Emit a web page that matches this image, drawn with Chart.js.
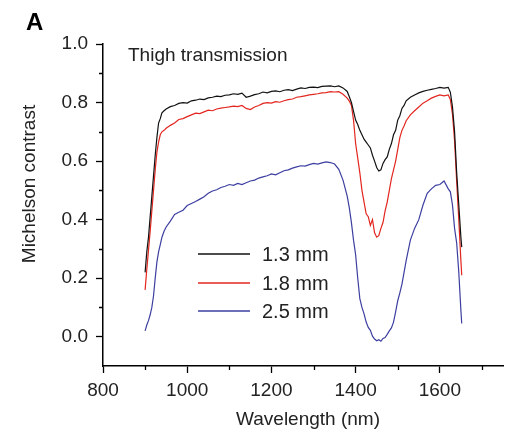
<!DOCTYPE html>
<html>
<head>
<meta charset="utf-8">
<script src="https://cdn.jsdelivr.net/npm/chart.js@4/dist/chart.umd.min.js"></script>
<style>
  html, body { margin: 0; padding: 0; background: #fff; }
  #wrap { width: 507px; height: 432px; }
</style>
</head>
<body>
<div id="wrap"><canvas id="thighChart" width="507" height="432"></canvas></div>
<script>
// wavelength grid (nm) shared by the three traces
const wavelengths = [
  900, 904, 908, 912, 916, 920, 924, 928, 932, 936, 940, 945,
  950, 960, 970, 980, 990, 1000, 1010, 1020, 1030, 1040, 1050, 1060, 1070, 1080, 1090,
  1100, 1110, 1120, 1130, 1140, 1150, 1160, 1170, 1180, 1190, 1200, 1210, 1220, 1230, 1240,
  1250, 1260, 1270, 1280, 1290, 1300, 1310, 1320, 1330, 1340, 1350, 1360, 1370, 1380,
  1385, 1390, 1395, 1400, 1405, 1410, 1415, 1420, 1425, 1430, 1435, 1440, 1445, 1450,
  1455, 1460, 1465, 1470, 1475, 1480, 1485, 1490, 1495, 1500, 1505, 1510, 1515, 1520,
  1530, 1540, 1550, 1560, 1570, 1580, 1590, 1600, 1610, 1620,
  1625, 1630, 1635, 1640, 1645, 1650, 1652
];

// Michelson contrast
const contrast13 = [
  0.22, 0.29, 0.34, 0.41, 0.48, 0.55, 0.62, 0.68, 0.73, 0.745, 0.765, 0.772,
  0.778, 0.786, 0.79, 0.797, 0.8, 0.798, 0.806, 0.808, 0.812, 0.81, 0.816, 0.818, 0.822, 0.82, 0.825,
  0.826, 0.83, 0.828, 0.832, 0.818, 0.822, 0.827, 0.83, 0.836, 0.833, 0.838, 0.84, 0.837, 0.842, 0.844,
  0.841, 0.846, 0.85, 0.848, 0.852, 0.853, 0.851, 0.855, 0.856, 0.857, 0.854, 0.857, 0.85, 0.838,
  0.82, 0.80, 0.77, 0.74, 0.725, 0.705, 0.69, 0.675, 0.665, 0.655, 0.645, 0.62, 0.6, 0.578,
  0.566, 0.57, 0.592, 0.605, 0.614, 0.64, 0.66, 0.69, 0.705, 0.74, 0.755, 0.78, 0.79, 0.806,
  0.818, 0.826, 0.833, 0.838, 0.842, 0.845, 0.848, 0.852, 0.849, 0.852,
  0.835, 0.785, 0.70, 0.56, 0.45, 0.34, 0.306
];
const contrast18 = [
  0.16, 0.23, 0.295, 0.36, 0.43, 0.5, 0.57, 0.63, 0.665, 0.69, 0.70, 0.705,
  0.712, 0.722, 0.73, 0.742, 0.745, 0.752, 0.758, 0.764, 0.762, 0.768, 0.774, 0.772, 0.778, 0.781, 0.783,
  0.785, 0.788, 0.786, 0.79, 0.78, 0.776, 0.785, 0.79, 0.797, 0.8, 0.798, 0.803, 0.801, 0.806, 0.81,
  0.812, 0.818, 0.82, 0.823, 0.826, 0.828, 0.83, 0.833, 0.834, 0.837, 0.836, 0.837, 0.828, 0.815,
  0.805, 0.79, 0.74, 0.66, 0.61, 0.56, 0.5, 0.46, 0.42, 0.41, 0.38, 0.4, 0.355, 0.34,
  0.345, 0.37, 0.39, 0.43, 0.46, 0.5, 0.54, 0.57, 0.6, 0.64, 0.68, 0.705, 0.72, 0.738,
  0.758, 0.772, 0.785, 0.798, 0.806, 0.815, 0.821, 0.826, 0.823, 0.826,
  0.81, 0.76, 0.67, 0.53, 0.40, 0.26, 0.21
];
const contrast25 = [
  0.02, 0.04, 0.055, 0.075, 0.10, 0.14, 0.2, 0.255, 0.29, 0.315, 0.34, 0.36,
  0.375, 0.395, 0.418, 0.425, 0.432, 0.448, 0.455, 0.462, 0.47, 0.478, 0.49, 0.498, 0.502, 0.51, 0.514,
  0.52, 0.517, 0.524, 0.52, 0.526, 0.532, 0.535, 0.542, 0.546, 0.55, 0.556, 0.553, 0.56, 0.567, 0.57,
  0.576, 0.58, 0.584, 0.583, 0.588, 0.592, 0.59, 0.594, 0.597, 0.595, 0.59, 0.572, 0.535, 0.48,
  0.44, 0.39, 0.33, 0.28, 0.2, 0.13, 0.1, 0.078, 0.05, 0.032, 0.022, 0.002, -0.008, -0.014,
  -0.01, -0.015, -0.006, -0.003, 0.008, 0.02, 0.03, 0.05, 0.085, 0.123, 0.15, 0.18, 0.22, 0.26,
  0.33, 0.37, 0.4, 0.45, 0.49, 0.505, 0.517, 0.52, 0.532, 0.505,
  0.495, 0.45, 0.37, 0.32, 0.22, 0.09, 0.045
];

const seriesLabels = ['1.3 mm', '1.8 mm', '2.5 mm'];
const seriesColors = ['#111111', '#e3261f', '#3d3fa0'];

const xTicks = [800, 1000, 1200, 1400, 1600];
const xMinorTicks = [900, 1100, 1300, 1500, 1700];
const yTicks = [0.0, 0.2, 0.4, 0.6, 0.8, 1.0];
const yMinorTicks = [0.1, 0.3, 0.5, 0.7, 0.9];

const FONT = '"Liberation Sans", Arial, Helvetica, sans-serif';
const TEXT = '#222';

const toPoints = arr => wavelengths.map((w, i) => ({ x: w, y: arr[i] }));

// minor ticks, axis titles, panel letter, annotation and legend
const extras = {
  id: 'extras',
  afterDraw(chart) {
    const { ctx, scales: { x, y } } = chart;
    ctx.save();
    ctx.strokeStyle = '#000';
    ctx.lineWidth = 1.3;
    ctx.beginPath();
    xMinorTicks.forEach(v => {
      const px = Math.round(x.getPixelForValue(v)) + 0.5;
      ctx.moveTo(px, y.bottom);
      ctx.lineTo(px, y.bottom + 4);
    });
    yMinorTicks.forEach(v => {
      const py = Math.round(y.getPixelForValue(v)) + 0.5;
      ctx.moveTo(x.left, py);
      ctx.lineTo(x.left - 4, py);
    });
    ctx.stroke();

    ctx.fillStyle = TEXT;
    ctx.font = '19px ' + FONT;
    ctx.textAlign = 'center';
    ctx.textBaseline = 'middle';
    ctx.fillText('Wavelength (nm)', 308, 420);

    ctx.save();
    ctx.translate(30, 184);
    ctx.rotate(-Math.PI / 2);
    ctx.fillText('Michelson contrast', 0, 0);
    ctx.restore();

    ctx.fillStyle = '#000';
    ctx.font = 'bold 24px ' + FONT;
    ctx.textAlign = 'left';
    ctx.textBaseline = 'alphabetic';
    ctx.fillText('A', 26, 30);

    ctx.fillStyle = TEXT;
    ctx.font = '19px ' + FONT;
    ctx.textBaseline = 'middle';
    ctx.fillText('Thigh transmission', 128, 56);

    // legend
    const rows = [254, 283, 311];
    chart.data.datasets.forEach((ds, i) => {
      ctx.strokeStyle = ds.borderColor;
      ctx.lineWidth = 1.4;
      ctx.beginPath();
      ctx.moveTo(198, rows[i]);
      ctx.lineTo(250, rows[i]);
      ctx.stroke();
      ctx.fillStyle = TEXT;
      ctx.font = '20px ' + FONT;
      ctx.fillText(ds.label, 262, rows[i] + 1);
    });
    ctx.restore();
  }
};

new Chart(document.getElementById('thighChart'), {
  type: 'line',
  data: {
    datasets: [contrast13, contrast18, contrast25].map((arr, i) => ({
      label: seriesLabels[i],
      data: toPoints(arr),
      borderColor: seriesColors[i],
      borderWidth: 1.2,
      pointRadius: 0,
      tension: 0,
      fill: false
    }))
  },
  options: {
    responsive: false,
    devicePixelRatio: 1,
    animation: false,
    layout: { padding: { top: 44, right: 4, left: 0, bottom: 0 } },
    plugins: {
      legend: { display: false },
      tooltip: { enabled: false }
    },
    scales: {
      x: {
        type: 'linear',
        min: 800,
        max: 1750,
        afterBuildTicks: s => { s.ticks = xTicks.map(v => ({ value: v })); },
        afterFit: s => { s.height = 66; },
        grid: { drawOnChartArea: false, drawTicks: true, tickLength: 7, tickColor: '#000', tickWidth: 1.3 },
        border: { display: true, color: '#000', width: 1.5 },
        ticks: {
          color: TEXT,
          font: { family: FONT, size: 19 },
          padding: 6,
          maxRotation: 0,
          autoSkip: false,
          callback: v => String(v)
        }
      },
      y: {
        min: -0.1,
        max: 1.0,
        afterBuildTicks: s => { s.ticks = yTicks.map(v => ({ value: v })); },
        afterFit: s => { s.width = 103; },
        grid: { drawOnChartArea: false, drawTicks: true, tickLength: 7, tickColor: '#000', tickWidth: 1.3 },
        border: { display: true, color: '#000', width: 1.5 },
        ticks: {
          color: TEXT,
          font: { family: FONT, size: 19 },
          padding: 8,
          callback: v => v.toFixed(1)
        }
      }
    }
  },
  plugins: [extras]
});
</script>
</body>
</html>
